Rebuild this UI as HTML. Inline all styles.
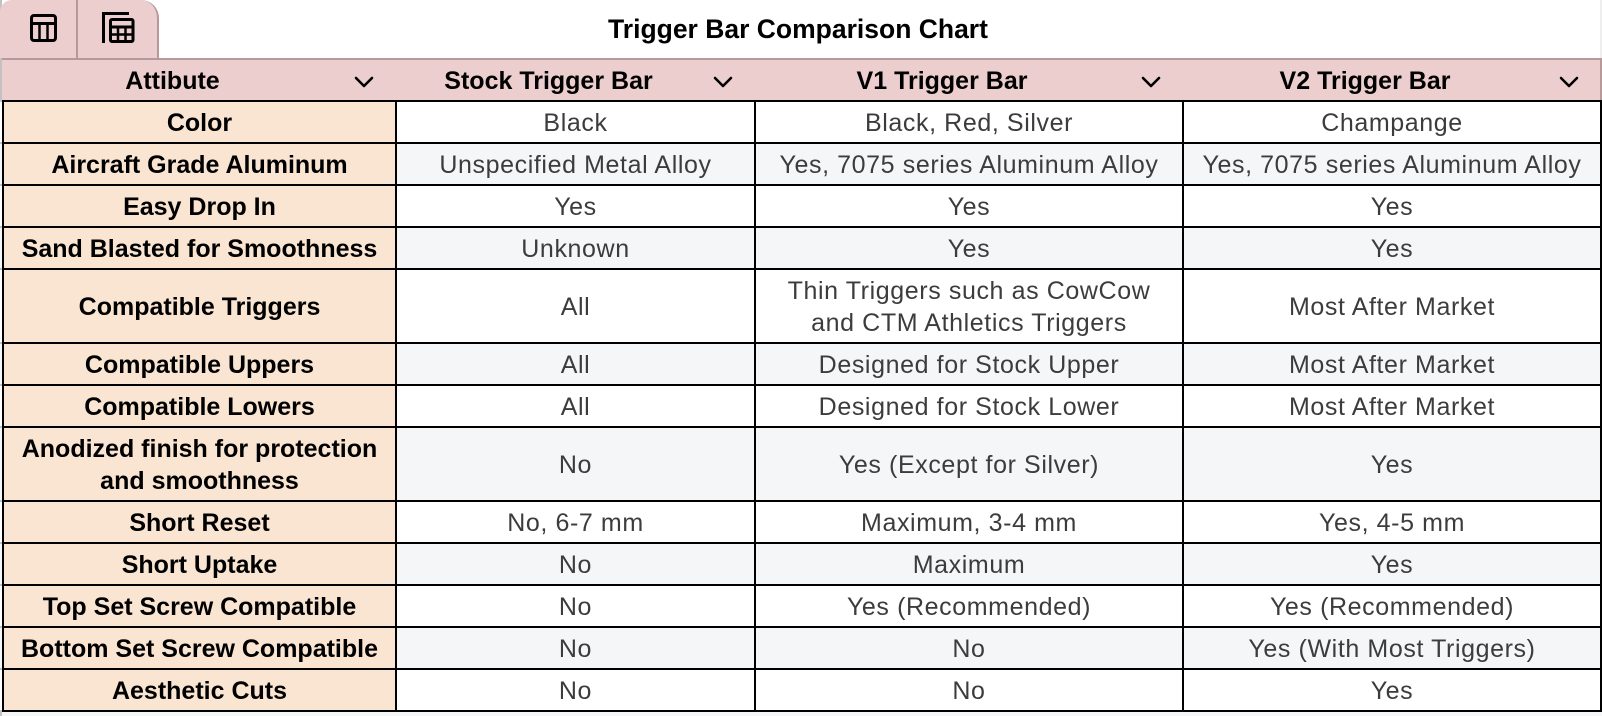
<!DOCTYPE html>
<html>
<head>
<meta charset="utf-8">
<style>
  html, body { margin:0; padding:0; }
  body { width:1602px; height:716px; position:relative; overflow:hidden; background:#ffffff;
         font-family:"Liberation Sans", Arial, sans-serif; }
  .abs { position:absolute; }
  .title { position:absolute; left:0; top:0; width:1596px; height:59px; display:flex; align-items:center;
           justify-content:center; font-weight:bold; font-size:26.5px; color:#000; }
  .tab { position:absolute; left:0; top:0; width:157px; height:58px; background:#edcece;
         border-right:2px solid #b79999; border-top-right-radius:18px; border-top-left-radius:12px; }
  .hdr { position:absolute; left:2px; top:60px; width:1598px; height:40px; background:#edcece; }
  .hc { position:absolute; top:60px; height:40px; display:flex; align-items:center; justify-content:center;
        font-weight:bold; font-size:25px; color:#000; box-sizing:border-box; padding-right:54px; padding-top:2px; }
  .row { position:absolute; left:0; width:1602px; }
  .row.g { background:#f5f6f8; }
  .row.w { background:#ffffff; }
  .c { position:absolute; top:0; bottom:0; display:flex; align-items:center; justify-content:center;
       text-align:center; font-size:25px; letter-spacing:0.6px; color:#3c3c3c; line-height:32px;
       box-sizing:border-box; padding-top:2px; }
  .c1 { left:4px; width:391px; background:#f9e5d2; font-weight:bold; color:#000; letter-spacing:0; }
  .c2 { left:397px; width:357px; }
  .c3 { left:756px; width:426px; }
  .c4 { left:1184px; width:416px; }
  .hl { position:absolute; left:2px; width:1600px; height:2px; background:#000; }
  .vl { position:absolute; top:100px; width:2px; height:612px; background:#000; }
</style>
</head>
<body>

<!-- left gray stripe -->
<div class="abs" style="left:0;top:0;width:2px;height:716px;background:#c2c2c2;"></div>
<!-- right edge light strip above header -->
<div class="abs" style="left:1600px;top:0;width:2px;height:58px;background:#eeeeee;"></div>

<!-- tab -->
<div class="tab"></div>
<div class="abs" style="left:76px;top:0;width:2px;height:58px;background:#b79999;"></div>
<svg class="abs" style="left:0;top:0;" width="160" height="59" viewBox="0 0 160 59">
  <g fill="none" stroke="#000" stroke-linecap="butt">
    <!-- icon 1 -->
    <rect x="31.5" y="15.5" width="24" height="25" rx="2.5" stroke-width="3"/>
    <line x1="31" y1="23.5" x2="56" y2="23.5" stroke-width="3"/>
    <line x1="39.5" y1="23" x2="39.5" y2="41" stroke-width="2.5"/>
    <line x1="47.5" y1="23" x2="47.5" y2="41" stroke-width="2.5"/>
    <!-- icon 2 -->
    <path d="M103.5 43 V13.5 H129" stroke-width="3"/>
    <rect x="110.5" y="19.5" width="22.5" height="22" rx="1.5" stroke-width="3"/>
    <line x1="110" y1="27" x2="133" y2="27" stroke-width="3"/>
    <line x1="110" y1="34.5" x2="133" y2="34.5" stroke-width="2.5"/>
    <line x1="118" y1="27" x2="118" y2="42" stroke-width="2.5"/>
    <line x1="125.5" y1="27" x2="125.5" y2="42" stroke-width="2.5"/>
  </g>
</svg>

<div class="title">Trigger Bar Comparison Chart</div>

<!-- header row -->
<div class="abs" style="left:2px;top:58px;width:1600px;height:2px;background:#b79999;"></div>
<div class="hdr"></div>
<div class="abs" style="left:1600px;top:58px;width:2px;height:42px;background:#b79999;"></div>
<div class="hc" style="left:4px;width:391px;">Attibute</div>
<div class="hc" style="left:397px;width:357px;">Stock Trigger Bar</div>
<div class="hc" style="left:756px;width:426px;">V1 Trigger Bar</div>
<div class="hc" style="left:1184px;width:416px;">V2 Trigger Bar</div>
<svg class="abs" style="left:0;top:60px;" width="1602" height="40">
  <g fill="none" stroke="#000" stroke-width="2.6" stroke-linecap="round" stroke-linejoin="round">
    <polyline points="356,18 364,26 372,18"/>
    <polyline points="715,18 723,26 731,18"/>
    <polyline points="1143,18 1151,26 1159,18"/>
    <polyline points="1561,18 1569,26 1577,18"/>
  </g>
</svg>

<!-- body rows -->
<div class="row w" style="top:102px;height:40px;">
  <div class="c c1">Color</div><div class="c c2">Black</div><div class="c c3">Black, Red, Silver</div><div class="c c4">Champange</div>
</div>
<div class="row g" style="top:144px;height:40px;">
  <div class="c c1">Aircraft Grade Aluminum</div><div class="c c2">Unspecified Metal Alloy</div><div class="c c3">Yes, 7075 series Aluminum Alloy</div><div class="c c4">Yes, 7075 series Aluminum Alloy</div>
</div>
<div class="row w" style="top:186px;height:40px;">
  <div class="c c1">Easy Drop In</div><div class="c c2">Yes</div><div class="c c3">Yes</div><div class="c c4">Yes</div>
</div>
<div class="row g" style="top:228px;height:40px;">
  <div class="c c1">Sand Blasted for Smoothness</div><div class="c c2">Unknown</div><div class="c c3">Yes</div><div class="c c4">Yes</div>
</div>
<div class="row w" style="top:270px;height:72px;">
  <div class="c c1">Compatible Triggers</div><div class="c c2">All</div><div class="c c3">Thin Triggers such as CowCow<br>and CTM Athletics Triggers</div><div class="c c4">Most After Market</div>
</div>
<div class="row g" style="top:344px;height:40px;">
  <div class="c c1">Compatible Uppers</div><div class="c c2">All</div><div class="c c3">Designed for Stock Upper</div><div class="c c4">Most After Market</div>
</div>
<div class="row w" style="top:386px;height:40px;">
  <div class="c c1">Compatible Lowers</div><div class="c c2">All</div><div class="c c3">Designed for Stock Lower</div><div class="c c4">Most After Market</div>
</div>
<div class="row g" style="top:428px;height:72px;">
  <div class="c c1">Anodized finish for protection<br>and smoothness</div><div class="c c2">No</div><div class="c c3">Yes (Except for Silver)</div><div class="c c4">Yes</div>
</div>
<div class="row w" style="top:502px;height:40px;">
  <div class="c c1">Short Reset</div><div class="c c2">No, 6-7 mm</div><div class="c c3">Maximum, 3-4 mm</div><div class="c c4">Yes, 4-5 mm</div>
</div>
<div class="row g" style="top:544px;height:40px;">
  <div class="c c1">Short Uptake</div><div class="c c2">No</div><div class="c c3">Maximum</div><div class="c c4">Yes</div>
</div>
<div class="row w" style="top:586px;height:40px;">
  <div class="c c1">Top Set Screw Compatible</div><div class="c c2">No</div><div class="c c3">Yes (Recommended)</div><div class="c c4">Yes (Recommended)</div>
</div>
<div class="row g" style="top:628px;height:40px;">
  <div class="c c1">Bottom Set Screw Compatible</div><div class="c c2">No</div><div class="c c3">No</div><div class="c c4">Yes (With Most Triggers)</div>
</div>
<div class="row w" style="top:670px;height:40px;">
  <div class="c c1">Aesthetic Cuts</div><div class="c c2">No</div><div class="c c3">No</div><div class="c c4">Yes</div>
</div>

<!-- bottom strip -->
<div class="abs" style="left:2px;top:712px;width:1600px;height:4px;background:#f5f6f8;"></div>

<!-- grid lines -->
<div class="hl" style="top:100px;"></div>
<div class="hl" style="top:142px;"></div>
<div class="hl" style="top:184px;"></div>
<div class="hl" style="top:226px;"></div>
<div class="hl" style="top:268px;"></div>
<div class="hl" style="top:342px;"></div>
<div class="hl" style="top:384px;"></div>
<div class="hl" style="top:426px;"></div>
<div class="hl" style="top:500px;"></div>
<div class="hl" style="top:542px;"></div>
<div class="hl" style="top:584px;"></div>
<div class="hl" style="top:626px;"></div>
<div class="hl" style="top:668px;"></div>
<div class="hl" style="top:710px;"></div>

<div class="vl" style="left:2px;"></div>
<div class="vl" style="left:395px;"></div>
<div class="vl" style="left:754px;"></div>
<div class="vl" style="left:1182px;"></div>
<div class="vl" style="left:1600px;"></div>

</body>
</html>
